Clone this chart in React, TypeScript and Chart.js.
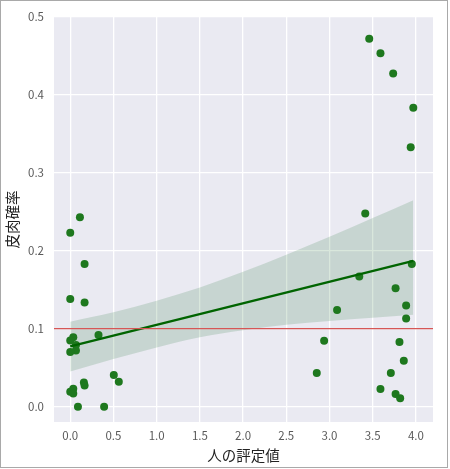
import React, { useEffect, useRef } from "react";
import { Chart, registerables } from "chart.js";

Chart.register(...registerables);

// Scatter points: human rating (x) vs sarcasm probability (y)
const ratingX: number[] = [
  0.0, 0.112, 0.166, 0.0, 0.166, 0.327, 0.035, 0.0, 0.066, 0.066,
  0.0, 0.504, 0.562, 0.158, 0.166, 0.035, 0.0, 0.035, 0.089, 0.392,
  3.46, 3.59, 3.737, 3.97, 3.94, 3.414, 3.953, 3.345, 3.765, 3.088,
  3.887, 3.887, 2.938, 3.81, 3.86, 2.853, 3.71, 3.59, 3.765, 3.818,
];
const probY: number[] = [
  0.223, 0.243, 0.183, 0.138, 0.1335, 0.092, 0.089, 0.085, 0.079, 0.072,
  0.07, 0.0407, 0.032, 0.031, 0.027, 0.023, 0.019, 0.017, 0.0, 0.0,
  0.472, 0.4535, 0.4275, 0.3834, 0.333, 0.248, 0.183, 0.167, 0.152, 0.124,
  0.1297, 0.113, 0.0847, 0.083, 0.059, 0.0433, 0.0433, 0.0227, 0.0163, 0.0108,
];

// Regression line
const fitX: number[] = [0.0, 3.97];
const fitY: number[] = [0.0772, 0.1872];

// Confidence band
const bandX: number[] = [0.0, 0.5, 1.0, 1.5, 2.0, 2.5, 3.0, 3.5, 3.97];
const bandUpper: number[] = [0.109, 0.121, 0.136, 0.153, 0.173, 0.195, 0.218, 0.242, 0.265];
const bandLower: number[] = [0.045, 0.061, 0.076, 0.089, 0.098, 0.105, 0.11, 0.114, 0.118];

// Threshold line
const threshold = 0.1;

const xLabel = "人の評定値";
const yLabel = "皮肉確率";

const FONT = "'Noto Sans CJK JP', 'Noto Sans', sans-serif";

export default function App() {
  const canvasRef = useRef<HTMLCanvasElement | null>(null);

  useEffect(() => {
    document.body.style.margin = "0";
    const canvas = canvasRef.current;
    if (!canvas) return;

    const bgPlugin = {
      id: "bg",
      beforeDraw(chart: any) {
        const { ctx, chartArea, width, height } = chart;
        ctx.save();
        ctx.fillStyle = "#ffffff";
        ctx.fillRect(0, 0, width, height);
        ctx.fillStyle = "#eaeaf2";
        ctx.fillRect(chartArea.left, chartArea.top, chartArea.right - chartArea.left, chartArea.bottom - chartArea.top);
        ctx.restore();
      },
    };

    const hlinePlugin = {
      id: "hline",
      afterDatasetsDraw(chart: any) {
        const { ctx, chartArea, scales } = chart;
        const y = scales.y.getPixelForValue(threshold);
        ctx.save();
        ctx.strokeStyle = "#d65656";
        ctx.lineWidth = 1.2;
        ctx.beginPath();
        ctx.moveTo(chartArea.left, y);
        ctx.lineTo(chartArea.right, y);
        ctx.stroke();
        ctx.restore();
      },
    };

    const chart = new Chart(canvas, {
      type: "scatter",
      data: {
        datasets: [
          {
            type: "line",
            label: "fit",
            data: fitX.map((x, i) => ({ x, y: fitY[i] })),
            borderColor: "#006400",
            borderWidth: 2.3,
            pointRadius: 0,
            fill: false,
            order: 1,
          } as any,
          {
            type: "scatter",
            label: "points",
            data: ratingX.map((x, i) => ({ x, y: probY[i] })),
            backgroundColor: "#1e781e",
            borderColor: "#1e781e",
            borderWidth: 0,
            pointRadius: 4,
            order: 2,
          } as any,
          {
            type: "line",
            label: "lower",
            data: bandX.map((x, i) => ({ x, y: bandLower[i] })),
            borderWidth: 0,
            borderColor: "rgba(0,0,0,0)",
            pointRadius: 0,
            cubicInterpolationMode: "monotone",
            fill: false,
            order: 3,
          } as any,
          {
            type: "line",
            label: "upper",
            data: bandX.map((x, i) => ({ x, y: bandUpper[i] })),
            borderWidth: 0,
            borderColor: "rgba(0,0,0,0)",
            backgroundColor: "rgba(30,110,50,0.17)",
            pointRadius: 0,
            cubicInterpolationMode: "monotone",
            fill: { target: 2 },
            order: 4,
          } as any,
        ],
      },
      options: {
        animation: false,
        responsive: false,
        maintainAspectRatio: false,
        layout: { padding: { left: 0, top: 17, right: 17, bottom: 0 } },
        plugins: {
          legend: { display: false },
          tooltip: { enabled: false },
        },
        scales: {
          x: {
            type: "linear",
            min: -0.188,
            max: 4.198,
            afterFit(scale: any) {
              scale.height = 47;
            },
            ticks: {
              stepSize: 0.5,
              includeBounds: false,
              padding: 7,
              color: "#595959",
              font: { family: FONT, size: 11.5 },
              callback: (v: any) => Number(v).toFixed(1),
              maxRotation: 0,
              autoSkip: false,
            },
            grid: { color: "#ffffff", lineWidth: 1.3, drawTicks: false },
            border: { display: false },
            title: {
              display: true,
              text: xLabel,
              color: "#222222",
              font: { family: FONT, size: 14.5 },
              padding: { top: 4, bottom: 5 },
            },
          },
          y: {
            type: "linear",
            min: -0.0197,
            max: 0.5,
            afterFit(scale: any) {
              scale.width = 54;
            },
            ticks: {
              stepSize: 0.1,
              includeBounds: false,
              padding: 10,
              color: "#595959",
              font: { family: FONT, size: 11.5 },
              callback: (v: any) => Number(v).toFixed(1),
            },
            grid: { color: "#ffffff", lineWidth: 1.3, drawTicks: false },
            border: { display: false },
            title: {
              display: true,
              text: yLabel,
              color: "#222222",
              font: { family: FONT, size: 14.5 },
              padding: { top: 4, bottom: 4 },
            },
          },
        },
      } as any,
      plugins: [bgPlugin, hlinePlugin],
    });

    return () => chart.destroy();
  }, []);

  return (
    <div style={{ position: "relative", width: 450, height: 469 }}>
      <canvas ref={canvasRef} width={450} height={469} style={{ position: "absolute", left: 0, top: 0, width: 450, height: 469 }} />
      <div
        style={{
          position: "absolute",
          left: 0,
          top: 0,
          width: 448,
          height: 468,
          boxSizing: "border-box",
          border: "1.5px solid #a9a9a9",
          pointerEvents: "none",
        }}
      />
    </div>
  );
}
